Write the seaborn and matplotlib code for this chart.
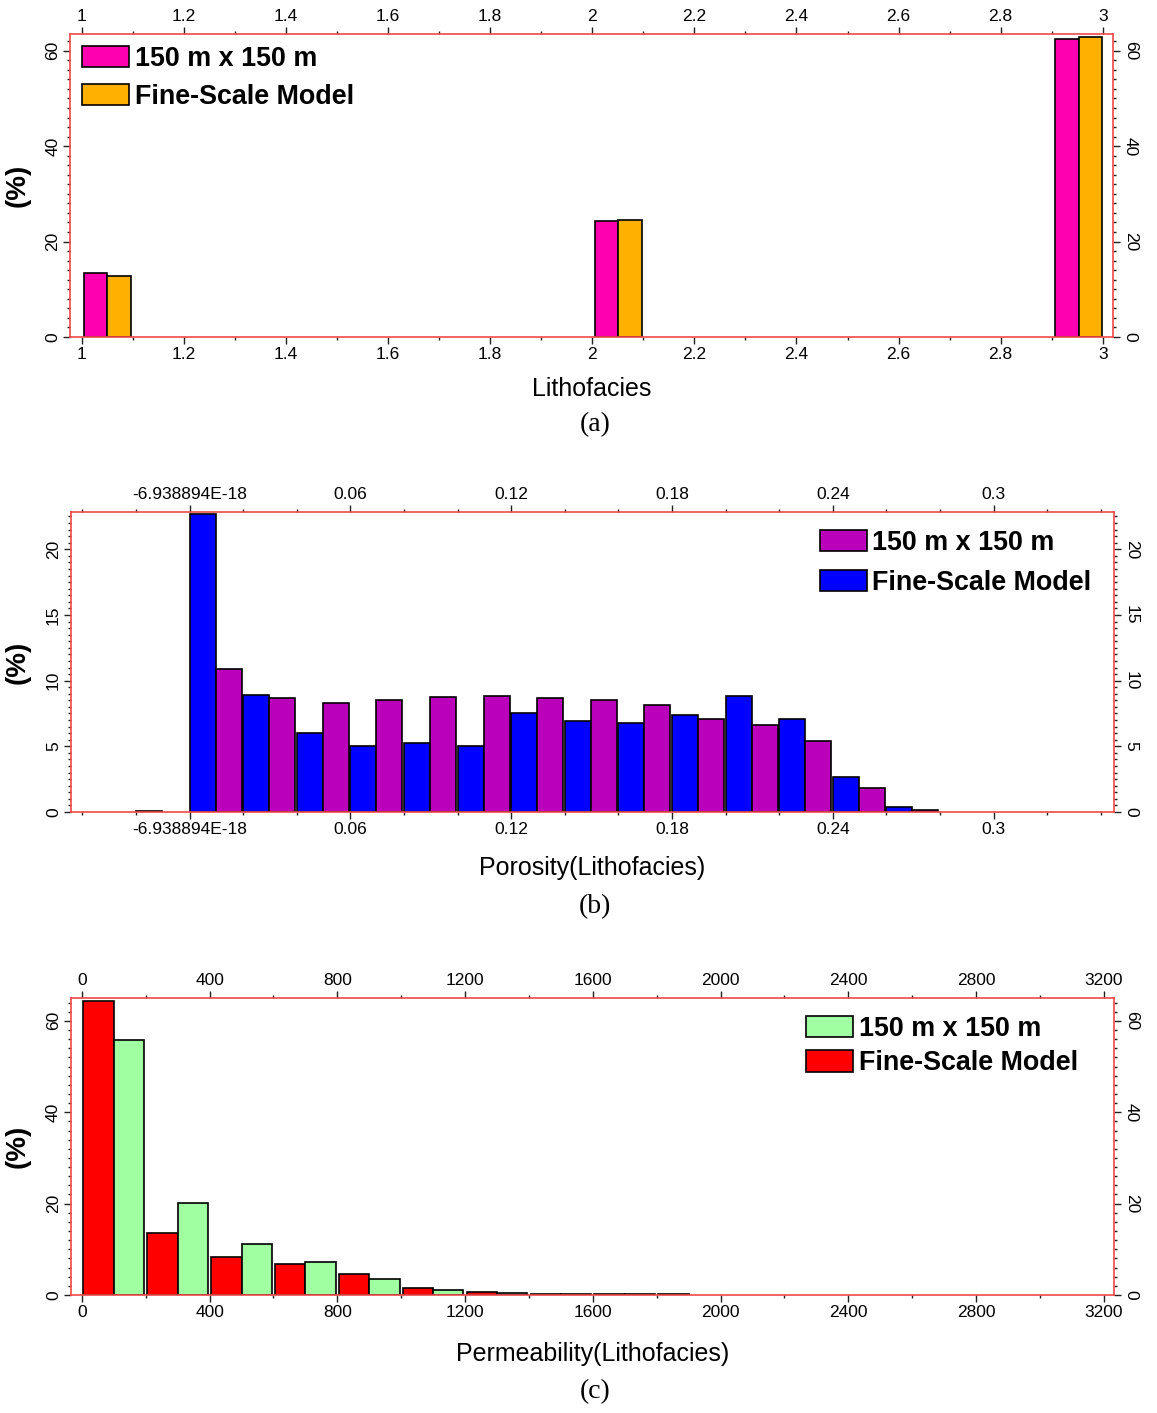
import numpy as np
import pandas as pd
import seaborn as sns
import matplotlib.pyplot as plt
from matplotlib.patches import Patch
from matplotlib.ticker import MultipleLocator

# ---------------- data ----------------
COARSE = "150 m x 150 m"
FINE = "Fine-Scale Model"

# (a) Lithofacies – centre of each pair of bars
litho_x = [1.05, 2.051, 2.953]
litho_coarse = [13.45, 24.3, 62.4]
litho_fine = [12.8, 24.5, 62.9]

# (b) Porosity – left edge of each pair of bins
por_x = [-0.02, 0.0, 0.02, 0.04, 0.06, 0.08, 0.10, 0.12, 0.14, 0.16,
         0.18, 0.20, 0.22, 0.24, 0.26]
por_fine = [0.1, 22.7, 8.9, 6.0, 5.05, 5.25, 5.0, 7.5, 6.95, 6.75,
            7.35, 8.85, 7.1, 2.65, 0.38]
por_coarse = [0.0, 10.85, 8.65, 8.3, 8.5, 8.75, 8.85, 8.65, 8.5, 8.15,
              7.1, 6.6, 5.4, 1.85, 0.18]
por_ticks = [0.0, 0.06, 0.12, 0.18, 0.24, 0.3]
por_ticklabels = ["-6.938894E-18", "0.06", "0.12", "0.18", "0.24", "0.3"]

# (c) Permeability – left edge of each pair of bins
perm_x = [0, 200, 400, 600, 800, 1000, 1200, 1400, 1600, 1800]
perm_fine = [64.3, 13.6, 8.4, 6.7, 4.7, 1.45, 0.75, 0.25, 0.2, 0.15]
perm_coarse = [55.8, 20.2, 11.1, 7.2, 3.4, 1.1, 0.5, 0.2, 0.15, 0.0]

# ---------------- style ----------------
sns.set_theme(style="white")
plt.rcParams["font.family"] = ["Liberation Sans", "DejaVu Sans"]
plt.rcParams["text.color"] = "black"
plt.rcParams["axes.labelcolor"] = "black"
plt.rcParams["xtick.color"] = "black"
plt.rcParams["ytick.color"] = "black"

SPINE = "#f04848"


def make_df(x, a, b, la, lb):
    df = pd.DataFrame({
        "x": list(x) + list(x),
        "pct": list(a) + list(b),
        "model": [la] * len(x) + [lb] * len(x),
    })
    return df[df["pct"] > 0]


def style_axis(ax, xlim, ylim, xmaj, xmin, ymaj, ymin, xlabel, lpad):
    ax.set_xlim(*xlim)
    ax.set_ylim(*ylim)
    ax.xaxis.set_minor_locator(MultipleLocator(xmin))
    ax.yaxis.set_major_locator(MultipleLocator(ymaj))
    ax.yaxis.set_minor_locator(MultipleLocator(ymin))
    for s in ax.spines.values():
        s.set_color(SPINE)
        s.set_linewidth(1.2)
        s.set_visible(True)
    ax.tick_params(which="both", direction="out", top=True, right=True,
                   bottom=True, left=True, labeltop=True, labelright=True,
                   color="#222222", labelcolor="black", width=1.0)
    ax.tick_params(which="major", length=5, labelsize=12.5, pad=2)
    ax.tick_params(which="minor", length=2.5)
    ax.tick_params(axis="y", which="major", labelrotation=90)
    for t in ax.yaxis.get_major_ticks():
        t.label1.set_verticalalignment("center")
        t.label2.set_rotation(-90)
        t.label2.set_verticalalignment("center")
    ax.set_xlabel(xlabel, fontsize=18, labelpad=lpad, color="black")
    ax.set_ylabel("(%)", fontsize=20, fontweight="bold", color="black")
    ax.yaxis.set_label_coords(-0.038, 0.5)
    ax.grid(False)


def add_legend(ax, colors, anchor, spacing):
    handles = [Patch(facecolor=colors[0], edgecolor="black", linewidth=1.2),
               Patch(facecolor=colors[1], edgecolor="black", linewidth=1.2)]
    leg = ax.legend(handles, [COARSE, FINE], loc="upper left",
                    bbox_to_anchor=anchor, frameon=False, borderpad=0,
                    borderaxespad=0, handlelength=1.75, handleheight=0.85,
                    handletextpad=0.2, labelspacing=spacing,
                    prop={"weight": "bold", "size": 19.4})
    for t in leg.get_texts():
        t.set_color("black")


fig = plt.figure(figsize=(11.57, 14.13), dpi=100)
W, H = 1157, 1413


def axes_px(left, top, right, bottom):
    return fig.add_axes([left / W, 1 - bottom / H, (right - left) / W,
                         (bottom - top) / H])


bar_kw = dict(native_scale=True, orient="x", dodge=True, saturation=1,
              edgecolor="black", linewidth=1.2, errorbar=None, legend=False,
              gap=0)

# ---------------- (a) ----------------
axA = axes_px(70, 34, 1113, 337)
dfA = make_df(litho_x, litho_coarse, litho_fine, COARSE, FINE)
sns.barplot(data=dfA, x="x", y="pct", hue="model", hue_order=[COARSE, FINE],
            palette={COARSE: "#ff00b0", FINE: "#ffb000"}, width=0.102,
            ax=axA, **bar_kw)
axA.set_xticks(np.round(np.arange(1.0, 3.01, 0.2), 1))
axA.set_xticklabels(["1", "1.2", "1.4", "1.6", "1.8", "2", "2.2", "2.4",
                     "2.6", "2.8", "3"])
style_axis(axA, (0.977, 3.020), (0, 63.5), 0.2, 0.1, 20, 2, "Lithofacies",
           11)
add_legend(axA, ["#ff00b0", "#ffb000"], (0.0115, 0.962), 0.45)

# ---------------- (b) ----------------
axB = axes_px(70.7, 512, 1114, 812)
por_c = [v + 0.0097 for v in por_x]
dfB = make_df(por_c, por_fine, por_coarse, FINE, COARSE)
sns.barplot(data=dfB, x="x", y="pct", hue="model", hue_order=[FINE, COARSE],
            palette={FINE: "#0000ff", COARSE: "#bb00bb"}, width=0.97,
            ax=axB, **bar_kw)
axB.set_xticks(por_ticks)
axB.set_xticklabels(por_ticklabels)
style_axis(axB, (-0.0444, 0.3449), (0, 22.84), 0.06, 0.02, 5, 0.5,
           "Porosity(Lithofacies)", 14)
add_legend(axB, ["#bb00bb", "#0000ff"], (0.718, 0.94), 0.5)

# ---------------- (c) ----------------
axC = axes_px(70.7, 998, 1114, 1295)
perm_c = [v + 100 for v in perm_x]
dfC = make_df(perm_c, perm_fine, perm_coarse, FINE, COARSE)
sns.barplot(data=dfC, x="x", y="pct", hue="model", hue_order=[FINE, COARSE],
            palette={FINE: "#ff0000", COARSE: "#a0ffa0"}, width=0.95,
            ax=axC, **bar_kw)
axC.set_xticks(np.arange(0, 3201, 400))
axC.set_xticklabels([str(v) for v in range(0, 3201, 400)])
style_axis(axC, (-35, 3232), (0, 65.0), 400, 200, 20, 2,
           "Permeability(Lithofacies)", 16)
add_legend(axC, ["#a0ffa0", "#ff0000"], (0.705, 0.94), 0.31)

# ---------------- captions ----------------
for y, t in [(425, "(a)"), (907, "(b)"), (1392, "(c)")]:
    fig.text(595 / W, 1 - y / H, t, ha="center", va="center", fontsize=20,
             family=["Liberation Serif", "DejaVu Serif"])

fig.savefig("out.png", dpi=100)
